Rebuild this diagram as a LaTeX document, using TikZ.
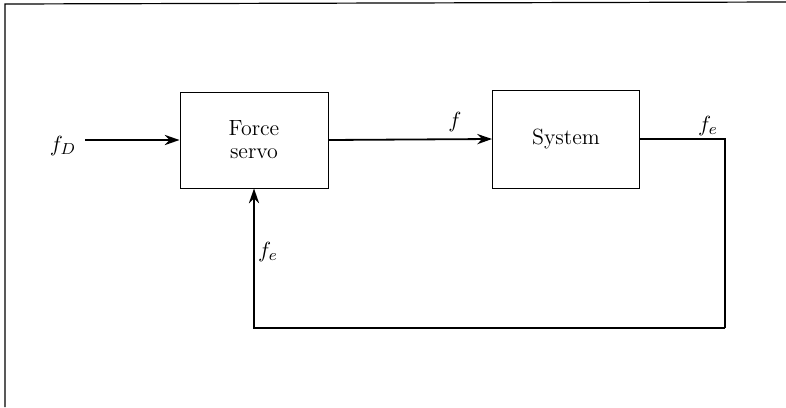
\documentclass[tikz,border=0pt]{standalone}
\usepackage{amsmath,amssymb}
\usepackage{tikz}
\usetikzlibrary{positioning,arrows.meta}

\begin{document}
\begin{tikzpicture}[
  x=0.5pt, y=-0.5pt,
  font=\fontsize{11}{11.5}\selectfont,
  fl/.style   = {-{Stealth[length=2.6mm,width=1.8mm]}, line width=0.9pt},
  ln/.style   = {line width=0.9pt},
  box/.style  = {draw, line width=0.5pt, align=center, inner sep=2pt},
  lbl/.style  = {inner sep=1pt},
]

% ================= frame ===============================================
\useasboundingbox (0,0) rectangle (786,407);
\draw[line width=0.6pt] (786,2) -- (5,4) -- (5,407);

% ================= blocks ==============================================
\node[box, minimum width=74pt, minimum height=48pt] (servo) at (254,140)
  {Force\\servo};
\node[box, minimum width=73.5pt, minimum height=49pt] (sys) at (566,139)
  {System};

\coordinate (in)   at (85,140);
\coordinate (turn) at (725,328);

% ================= labels ==============================================
\node[lbl] (fd)  at (63,146) {$f_D$};
\node[lbl] (f)   at (455,122) {$f$};
\node[lbl] (fe)  at (708,126) {$f_e$};
\node[lbl] (fe2) at (268,252) {$f_e$};

% ================= edges ===============================================
\draw[fl] (in) -- (servo.west);
\draw[fl] (servo.east) -- (sys.west);
\draw[ln] (sys.east) -| (turn);
\draw[fl] (turn) -| (servo.south);

\end{tikzpicture}
\end{document}
